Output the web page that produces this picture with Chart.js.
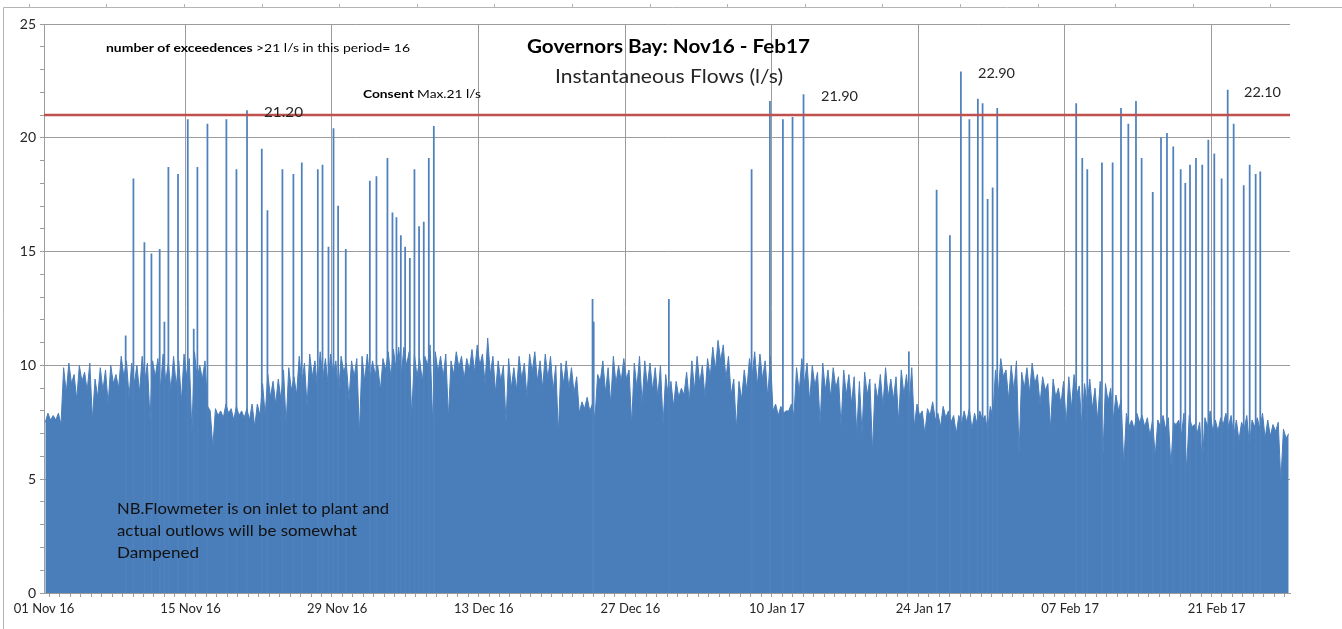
<!DOCTYPE html>
<html>
<head>
<meta charset="utf-8">
<script src="https://cdn.jsdelivr.net/npm/chart.js@4.4.1/dist/chart.umd.min.js"></script>
<style>
  html, body { margin: 0; padding: 0; background: #ffffff; }
  #wrap { position: relative; width: 1342px; height: 629px; }
</style>
</head>
<body>
<div id="wrap"><canvas id="c"></canvas></div>
<script>
// ---------------- DATA ----------------
// Tick labels every 14 days starting 01 Nov 2016
const tickLabels = ['01 Nov 16','15 Nov 16','29 Nov 16','13 Dec 16','27 Dec 16','10 Jan 17','24 Jan 17','07 Feb 17','21 Feb 17'];
const tickStepDays = 14;
const totalDays = 119;
const samplesPerDay = 4;

// Base instantaneous flow (l/s), four readings per day (one row per day)
const flow = [
  7.5, 7.9, 7.6, 7.8,   // 01 Nov
  7.6, 7.9, 7.4, 9.9,
  8.8,10.1, 9.2, 9.6,
  8.5,10.0, 9.3, 9.7,
  8.9,10.1, 7.6, 9.4,
  8.6, 9.9, 8.9, 9.8,
  8.3,10.0, 9.2, 9.6,
  9.0,10.4, 9.5,10.2,
  8.6,10.1, 9.2,10.0,
  8.8,10.4, 9.3,10.1,
  7.6,10.2, 9.5,10.3,
  9.0,10.5, 9.3,10.1,
  8.9,10.4, 9.1,10.2,
  8.4,10.5, 9.5,10.3,
  7.1,10.6, 9.4,10.0,   // 15 Nov
  9.4,10.2, 8.2, 8.0,
  6.4, 8.1, 7.8, 8.0,
  7.7, 8.3, 7.9, 8.1,
  7.6, 8.2, 7.8, 8.0,
  7.7, 8.1, 7.6, 8.3,
  7.3, 8.3, 7.8, 9.2,
  7.8, 9.6, 8.6, 9.3,
  8.3, 9.4, 8.5, 9.8,
  7.4, 9.9, 8.9, 9.5,
  8.7,10.4, 9.2,10.1,
  8.2,10.5, 9.5,10.2,
  9.0,10.6, 9.4,10.3,
  9.2,10.5, 9.6,10.2,
  8.7,10.4, 9.7,10.1,   // 29 Nov
  8.5,10.2, 9.5,10.3,
  7.0,10.4, 9.3,10.5,
  9.3,10.2, 9.6,10.0,
  8.9,10.3, 9.8,10.6,
  9.5,10.7, 9.8,10.8,
  9.6,10.8,10.0,10.6,
  7.8,10.5, 9.5,10.3,
  9.3,10.4,10.0,10.9,
  7.5,10.6, 9.7,10.4,
  9.5,10.5, 7.7,10.2,
  9.6,10.6, 9.9,10.4,
  9.4,10.3, 9.8,10.7,
  9.7,10.9,10.0,10.5,
  9.2,11.2, 9.6,10.4,   // 13 Dec
  8.8,10.2, 9.3,10.0,
  7.5,10.3, 9.0, 9.9,
  8.9,10.4, 9.4,10.1,
  8.6,10.5, 9.7,10.6,
  9.3,10.2, 9.0,10.5,
  9.4,10.4, 8.9,10.0,
  7.0,10.1, 9.2,10.2,
  9.0, 9.9, 8.8, 9.5,
  7.9, 8.4, 8.1, 8.6,
  8.0, 8.3, 7.7, 9.6,
  9.3,10.2, 8.8, 9.9,
  8.3,10.4, 9.2,10.0,
  9.3,10.3, 9.4, 9.8,
  7.4,10.1, 9.0,10.4,   // 27 Dec
  8.3,10.2, 9.1,10.1,
  8.9, 9.9, 8.6,10.0,
  7.4, 9.6, 8.6, 9.3,
  8.2, 9.3, 8.6, 9.0,
  8.7, 9.7, 8.4,10.2,
  8.9,10.4, 9.2,10.0,
  8.6,10.3, 9.5,10.8,
  9.8,11.1,10.2,10.9,
  9.4,10.4, 8.7, 9.4,
  7.2, 9.3, 8.5, 9.8,
  8.9,10.3, 9.5,10.6,
  9.1,10.5, 9.4,10.2,
  8.6,10.4, 8.0, 8.3,
  7.8, 8.2, 7.9, 8.0,   // 10 Jan
  8.0, 8.3, 7.8, 9.9,
  8.8,10.3, 9.2,10.1,
  8.4,10.0, 9.1, 9.7,
  7.4,10.1, 8.9, 9.8,
  8.6, 9.9, 9.0, 9.5,
  7.3, 9.8, 8.7, 9.6,
  8.3, 9.5, 7.0, 9.3,
  7.0, 9.7, 8.7, 9.4,
  6.2, 9.2, 8.5, 9.6,
  8.2, 9.9, 8.6, 9.4,
  8.5, 9.5, 7.5, 9.8,
  8.7, 9.6, 8.3, 9.9,
  7.3, 8.3, 7.8, 8.0,
  7.0, 8.1, 7.8, 8.4,   // 24 Jan
  7.6, 7.9, 7.3, 8.2,
  7.7, 8.0, 7.5, 7.8,
  7.0, 7.8, 7.4, 8.0,
  7.5, 8.1, 7.2, 7.9,
  7.4, 8.0, 7.6, 7.8,
  7.1, 8.2, 7.7, 9.8,
  8.7,10.3, 9.5, 9.8,
  8.5,10.0, 8.9,10.2,
  6.1, 9.7, 9.0, 9.9,
  8.8,10.1, 9.2, 9.6,
  8.3, 9.5, 8.9, 9.2,
  7.2, 9.4, 8.6, 9.0,
  8.3, 9.3, 7.4, 9.5,
  8.1, 9.6, 8.7, 9.1,   // 07 Feb
  7.2, 9.2, 8.3, 9.4,
  8.1, 9.0, 7.6, 9.3,
  5.9, 9.2, 8.4, 9.0,
  7.6, 8.7, 8.0, 8.5,
  5.6, 7.9, 7.3, 7.6,
  7.2, 7.9, 7.5, 7.8,
  7.3, 7.7, 6.9, 7.6,
  6.0, 7.6, 7.3, 7.8,
  7.2, 7.7, 5.6, 7.5,
  7.4, 7.6, 6.9, 7.9,
  5.4, 7.8, 7.3, 7.4,
  7.0, 7.5, 5.6, 7.7,
  7.3, 8.0, 7.1, 7.6,
  7.1, 7.7, 7.4, 7.9,   // 21 Feb
  7.3, 7.8, 6.9, 7.6,
  6.7, 7.5, 7.2, 7.8,
  6.4, 7.6, 7.3, 7.7,
  7.2, 7.9, 6.8, 7.6,
  6.9, 7.4, 7.1, 7.5,
  4.9, 7.2, 6.8, 7.0
];

// Short flow peaks (day offset from 01 Nov 16, peak flow l/s)
const spikeDay = [
  7.8, 8.54, 9.59, 10.26, 11.05, 11.5, 11.88, 12.8, 13.73, 14.3, 14.65,
  15.61, 17.42, 18.38, 19.39, 20.8, 21.34, 22.77, 23.82, 24.62, 26.15, 26.6,
  27.17, 27.65, 28.09, 28.82, 31.12, 31.75, 32.8, 33.28, 33.66, 34.08, 34.49,
  34.94, 35.38, 35.82, 36.27, 36.75, 37.23, 52.39, 52.5, 59.68, 67.58, 69.33,
  70.57, 71.49, 72.54, 82.6, 85.25, 86.52, 87.57, 88.38, 89.19, 89.64, 90.12,
  90.6, 91.04, 98.58, 99.16, 99.64, 101.04, 102.06, 102.86, 103.56, 104.29,
  104.83, 105.89, 106.68, 107.25, 107.85, 108.56, 109.0, 109.45, 110.02,
  110.62, 111.2, 111.77, 112.47, 113.05, 113.62, 114.58, 115.15, 115.72, 116.16
];
const spikeFlow = [
  11.3, 18.2, 15.4, 14.9, 15.1, 11.9, 18.7, 18.4, 20.8, 11.6, 18.7,
  20.6, 20.8, 18.6, 21.2, 19.5, 16.8, 18.6, 18.4, 18.9, 18.6, 18.8,
  15.2, 20.4, 17.0, 15.1, 18.1, 18.3, 19.1, 16.7, 16.5, 15.7, 15.2,
  14.7, 18.6, 16.1, 16.3, 19.1, 20.5, 12.9, 11.9, 12.9, 18.6, 21.6,
  20.8, 20.9, 21.9, 10.6, 17.7, 15.7, 22.9, 20.8, 21.7, 21.5, 17.3,
  17.8, 21.3, 21.5, 19.1, 18.6, 18.9, 18.9, 21.3, 20.6, 21.6,
  19.1, 17.6, 20.0, 20.2, 19.6, 18.6, 18.0, 18.8, 19.1,
  18.8, 19.9, 19.3, 18.2, 22.1, 20.6, 17.9, 18.8, 18.4, 18.5
];

const consentMax = 21;
const yMax = 25;
const exceedanceCount = 16;
// labelled peaks: text shown next to the biggest peaks
const peakLabels = ['21.20', '21.90', '22.90', '22.10'];

// ---------------- BUILD ----------------
const baseData = flow.map((v, i) => ({ x: (i + 0.5) / samplesPerDay, y: v }));
const spikeData = spikeDay.map((d, i) => ({ x: d, y: spikeFlow[i] }));
const consentData = [{ x: 0, y: consentMax }, { x: totalDays, y: consentMax }];

const FONT = "Lato, 'Open Sans', sans-serif";
const GRID = '#9c9c9c';

function drawFit(ctx, parts, x, y, width, color) {
  let total = 0;
  parts.forEach(p => { ctx.font = p.font; total += ctx.measureText(p.text).width; });
  const sx = width / total;
  ctx.save();
  ctx.translate(x, y);
  ctx.scale(sx, 1);
  ctx.fillStyle = color;
  ctx.textBaseline = 'middle';
  ctx.textAlign = 'left';
  let cx = 0;
  parts.forEach(p => { ctx.font = p.font; ctx.fillText(p.text, cx, 0); cx += ctx.measureText(p.text).width; });
  ctx.restore();
}

const annotations = {
  id: 'annotations',
  beforeDraw(chart) {
    const ctx = chart.ctx;
    ctx.save();
    ctx.strokeStyle = '#b4b4b4';
    ctx.lineWidth = 1;
    ctx.beginPath();
    ctx.moveTo(3.5, 629); ctx.lineTo(3.5, 7.5); ctx.lineTo(1342, 7.5);
    for (let tx = 28.7; tx < 1342; tx += 77.6) {
      ctx.moveTo(Math.round(tx) + 0.5, 7.5); ctx.lineTo(Math.round(tx) + 0.5, 4);
    }
    ctx.stroke();
    ctx.restore();
  },
  afterDraw(chart) {
    const ctx = chart.ctx;
    drawFit(ctx, [
      { font: `bold 12px ${FONT}`, text: 'number of exceedences ' },
      { font: `12px ${FONT}`, text: '>21 l/s in this period= ' + exceedanceCount }
    ], 106, 48, 304, '#000');
    drawFit(ctx, [
      { font: `bold 12px ${FONT}`, text: 'Consent ' },
      { font: `12px ${FONT}`, text: 'Max.21 l/s' }
    ], 363, 94, 118, '#000');
    drawFit(ctx, [{ font: `bold 19px ${FONT}`, text: 'Governors Bay: Nov16 - Feb17' }], 527, 47, 283, '#000');
    drawFit(ctx, [{ font: `19px ${FONT}`, text: 'Instantaneous Flows (l/s)' }], 555, 77, 228, '#262626');
    const lab = [[264, 113, 39], [821, 97, 37], [978, 74, 37], [1244, 92.5, 37]];
    peakLabels.forEach((t, i) => {
      drawFit(ctx, [{ font: `13px ${FONT}`, text: t }], lab[i][0], lab[i][1], lab[i][2], '#262626');
    });
    drawFit(ctx, [{ font: `15px ${FONT}`, text: 'NB.Flowmeter is on inlet to plant and' }], 117, 509, 272, '#111');
    drawFit(ctx, [{ font: `15px ${FONT}`, text: 'actual outlows will be somewhat' }], 117, 531, 240, '#111');
    drawFit(ctx, [{ font: `15px ${FONT}`, text: 'Dampened' }], 117, 553, 82, '#111');
  }
};

new Chart(document.getElementById('c'), {
  type: 'line',
  data: {
    datasets: [
      {
        type: 'line', label: 'Consent', data: consentData, order: 0,
        borderColor: '#c0504d', borderWidth: 2.5, pointRadius: 0, fill: false
      },
      {
        type: 'bar', label: 'Peaks', data: spikeData, order: 1,
        backgroundColor: '#4f81bd', barThickness: 1.1, grouped: false, borderWidth: 0
      },
      {
        type: 'line', label: 'Flow', data: baseData, order: 2,
        borderColor: '#4a7ebb', backgroundColor: '#4a7ebb', borderWidth: 1,
        pointRadius: 0, fill: 'origin', tension: 0
      }
    ]
  },
  options: {
    responsive: true,
    maintainAspectRatio: false,
    animation: false,
    events: [],
    layout: { padding: { left: 0, right: 52, top: 24, bottom: 0 } },
    plugins: { legend: { display: false }, tooltip: { enabled: false }, title: { display: false } },
    scales: {
      x: {
        type: 'linear', min: 0, max: totalDays, offset: false,
        afterFit: s => { s.height = 36; },
        border: { color: GRID, width: 1 },
        grid: {
          color: c => (c.tick && c.tick.value % tickStepDays === 0 && c.tick.value !== 0) ? GRID : 'rgba(0,0,0,0)',
          tickColor: GRID, tickLength: 4, lineWidth: 1
        },
        ticks: {
          stepSize: 1, autoSkip: false, maxRotation: 0, minRotation: 0, padding: 4,
          color: '#262626', font: { family: FONT, size: 13 },
          callback: v => (v % tickStepDays === 0) ? (tickLabels[v / tickStepDays] || '') : ''
        }
      },
      y: {
        min: 0, max: yMax,
        afterFit: s => { s.width = 44; },
        border: { color: GRID, width: 1 },
        grid: {
          color: c => (c.tick && c.tick.value % 5 === 0) ? GRID : 'rgba(0,0,0,0)',
          tickColor: GRID, tickLength: 4, lineWidth: 1
        },
        ticks: {
          stepSize: 1, autoSkip: false, padding: 4,
          color: '#262626', font: { family: FONT, size: 14 },
          callback: v => (v % 5 === 0) ? String(v) : ''
        }
      }
    }
  },
  plugins: [annotations]
});
</script>
</body>
</html>
